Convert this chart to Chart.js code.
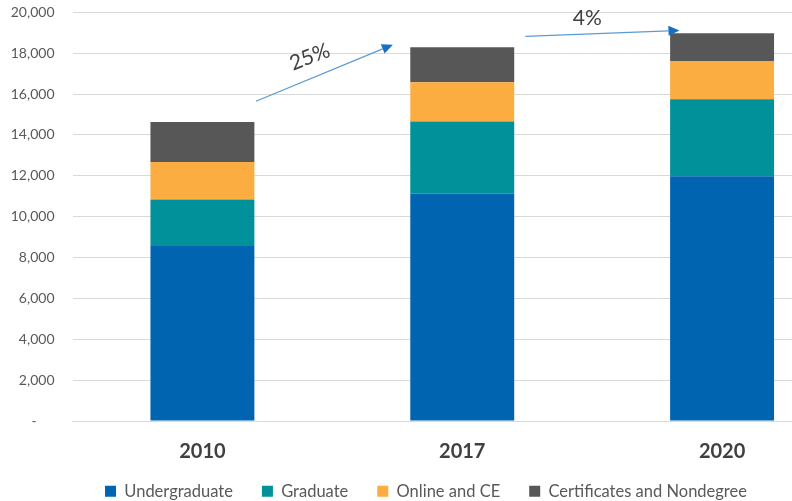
<!DOCTYPE html>
<html lang="en">
<head>
    <meta charset="UTF-8">
    <title>Enrollment by Program Type</title>
    <script src="https://cdn.jsdelivr.net/npm/chart.js"></script>
    <style>
        html, body { margin: 0; padding: 0; background: #fff; overflow: hidden; }
        #wrap { width: 888px; height: 515px; margin-top: -14px; }
    </style>
</head>
<body>
    <div id="wrap"><canvas id="enrollChart" width="888" height="515"></canvas></div>

    <script>
        // Data
        const years = ['2010', '2017', '2020'];
        const undergraduate = [8570, 11130, 11980];
        const graduate = [2270, 3525, 3770];
        const onlineCE = [1840, 1925, 1875];
        const certificates = [1960, 1715, 1355];
        const yTicks = [0, 2000, 4000, 6000, 8000, 10000, 12000, 14000, 16000, 18000, 20000];

        const totals = years.map((y, i) => undergraduate[i] + graduate[i] + onlineCE[i] + certificates[i]);

        // Growth arrows: [x as category index, y value] for start and tip
        const arrows = [
            { from: [0.206, 15650], to: [0.733, 18420], label: [0.413, 17820], angle: -21, a: 0, b: 1 },
            { from: [1.243, 18830], to: [1.836, 19120], label: [1.481, 19700], angle: 0, a: 1, b: 2 }
        ];

        const FONT = 'Lato, "Open Sans", sans-serif';

        const arrowPlugin = {
            id: 'growthArrows',
            afterLayout(chart) {
                // let the year labels spill below the (short) x axis box
                chart.scales.x.bottom = chart.height;
            },
            afterDatasetsDraw(chart) {
                const ctx = chart.ctx;
                const xs = chart.scales.x, ys = chart.scales.y;
                arrows.forEach(ar => {
                    const x1 = xs.getPixelForValue(ar.from[0]), y1 = ys.getPixelForValue(ar.from[1]);
                    const x2 = xs.getPixelForValue(ar.to[0]), y2 = ys.getPixelForValue(ar.to[1]);
                    const ang = Math.atan2(y2 - y1, x2 - x1);
                    const headLen = 11, headW = 5;
                    const bx = x2 - headLen * Math.cos(ang), by = y2 - headLen * Math.sin(ang);
                    ctx.save();
                    ctx.strokeStyle = '#5b9bd5';
                    ctx.lineWidth = 1.3;
                    ctx.beginPath();
                    ctx.moveTo(x1, y1);
                    ctx.lineTo(bx, by);
                    ctx.stroke();
                    ctx.fillStyle = '#1a6fc4';
                    ctx.beginPath();
                    ctx.moveTo(x2, y2);
                    ctx.lineTo(bx + headW * Math.sin(ang), by - headW * Math.cos(ang));
                    ctx.lineTo(bx - headW * Math.sin(ang), by + headW * Math.cos(ang));
                    ctx.closePath();
                    ctx.fill();

                    const pct = Math.round((totals[ar.b] / totals[ar.a] - 1) * 100) + '%';
                    const lx = xs.getPixelForValue(ar.label[0]), ly = ys.getPixelForValue(ar.label[1]);
                    ctx.translate(lx, ly);
                    ctx.rotate(ar.angle * Math.PI / 180);
                    ctx.fillStyle = '#404040';
                    ctx.font = '21px ' + FONT;
                    ctx.textAlign = 'center';
                    ctx.textBaseline = 'middle';
                    ctx.fillText(pct, 0, 0);
                    ctx.restore();
                });
            }
        };

        new Chart(document.getElementById('enrollChart').getContext('2d'), {
            type: 'bar',
            data: {
                labels: years,
                datasets: [
                    { label: 'Undergraduate', data: undergraduate, backgroundColor: '#0064b0' },
                    { label: 'Graduate', data: graduate, backgroundColor: '#00919a' },
                    { label: 'Online and CE', data: onlineCE, backgroundColor: '#fbad41' },
                    { label: 'Certificates and Nondegree', data: certificates, backgroundColor: '#575757' }
                ]
            },
            options: {
                responsive: false,
                animation: false,
                layout: { padding: { top: 0, right: 36, left: 0, bottom: 0 } },
                datasets: { bar: { categoryPercentage: 1.0, barPercentage: 0.4 } },
                scales: {
                    x: {
                        stacked: true,
                        grid: { display: false },
                        border: { display: true, color: '#d9d9d9', width: 1 },
                        afterFit(scale) { scale.height = 33; },
                        ticks: { color: '#404040', font: { family: FONT, size: 20, weight: 'bold' }, padding: 11 }
                    },
                    y: {
                        stacked: true,
                        min: 0,
                        max: 20000,
                        afterBuildTicks(scale) { scale.ticks = yTicks.map(v => ({ value: v })); },
                        afterFit(scale) { scale.width = 72.5; },
                        grid: { color: '#d9d9d9', lineWidth: 1, drawTicks: false },
                        border: { display: false },
                        ticks: {
                            color: '#595959',
                            padding: 18,
                            font: { family: FONT, size: 14 },
                            callback: v => v === 0 ? '-     ' : v.toLocaleString('en-US')
                        }
                    }
                },
                plugins: {
                    tooltip: { enabled: false },
                    legend: {
                        position: 'bottom',
                        maxHeight: 47,
                        labels: {
                            color: '#595959',
                            font: { family: FONT, size: 16.5 },
                            boxWidth: 11,
                            boxHeight: 11,
                            padding: 29
                        }
                    }
                }
            },
            plugins: [arrowPlugin]
        });
    </script>
</body>
</html>
